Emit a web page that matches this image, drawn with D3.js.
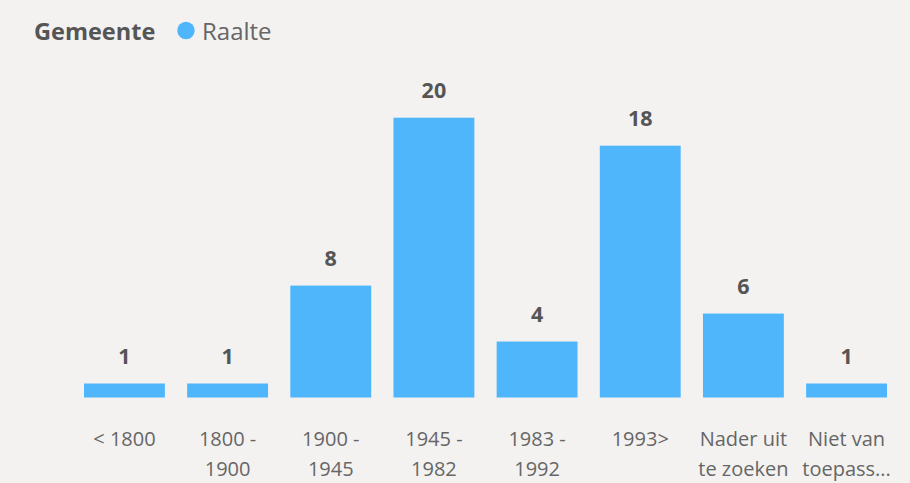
<!DOCTYPE html>
<html><head><meta charset="utf-8">
<script src="https://cdn.jsdelivr.net/npm/d3@7"></script>
<style>
html,body{margin:0;padding:0;background:#f3f2f1;}
svg{display:block;font-family:"Open Sans","Segoe UI",sans-serif;}
</style></head>
<body><svg id="c" width="910" height="483"></svg>
<script>
const categories = ["< 1800", "1800 - 1900", "1900 - 1945", "1945 - 1982", "1983 - 1992", "1993>", "Nader uit te zoeken", "Niet van toepassing"];
const values = [1, 1, 8, 20, 4, 18, 6, 1];
const legendTitle = "Gemeente";
const seriesName = "Raalte";

const color = "#4fb6fc";
const svg = d3.select("#c");

const x = d3.scaleBand().domain(categories).range([84, 887]).paddingInner(0.216).paddingOuter(0);
const y = d3.scaleLinear().domain([0, 20]).range([397.5, 117.7]);

svg.append("g").selectAll("rect").data(values).join("rect")
  .attr("x", (d,i) => x(categories[i]))
  .attr("width", x.bandwidth())
  .attr("y", d => y(d))
  .attr("height", d => y(0) - y(d))
  .attr("fill", color);

svg.append("g").selectAll("text").data(values).join("text")
  .attr("x", (d,i) => x(categories[i]) + x.bandwidth()/2)
  .attr("y", d => y(d) - 20)
  .attr("text-anchor", "middle")
  .attr("font-size", 21.5).attr("font-weight", "bold").attr("fill", "#555")
  .text(d => d);

// x axis
const axis = d3.axisBottom(x).tickSize(0).tickPadding(0);
const gx = svg.append("g").attr("transform", "translate(0,397.5)").call(axis);
gx.select(".domain").remove();
gx.selectAll("text").attr("font-size", 20).attr("fill", "#666").attr("dy", 0).attr("y", 48.5)
  .attr("font-family", "'Open Sans','Segoe UI',sans-serif");

const maxW = 92;
gx.selectAll(".tick text").each(function(){
  const t = d3.select(this);
  const words = t.text().split(/\s+/);
  t.text(null);
  const lines = [];
  let cur = [];
  const probe = t.append("tspan");
  words.forEach(w => {
    const test = cur.concat([w]).join(" ");
    probe.text(test);
    if (probe.node().getComputedTextLength() > maxW && cur.length) {
      lines.push(cur.join(" "));
      cur = [w];
    } else cur.push(w);
  });
  if (cur.length) lines.push(cur.join(" "));
  probe.remove();
  const out = lines.slice(0, 2);
  for (let i = 0; i < out.length; i++) {
    const ts = t.append("tspan").attr("x", 0).attr("y", 48.5 + i*30).text(out[i]);
    if (ts.node().getComputedTextLength() > maxW) {
      let s = out[i];
      while (s.length > 1) {
        s = s.slice(0, -1);
        ts.text(s + "...");
        if (ts.node().getComputedTextLength() <= maxW) break;
      }
    }
  }
});

// legend
const lg = svg.append("g");
lg.append("text").attr("x", 34).attr("y", 39.5).attr("font-size", 23.5).attr("font-weight", "bold").attr("fill", "#555").text(legendTitle);
lg.append("circle").attr("cx", 186).attr("cy", 30.5).attr("r", 8.7).attr("fill", color);
lg.append("text").attr("x", 202).attr("y", 39.5).attr("font-size", 24).attr("fill", "#666").text(seriesName);
</script></body></html>
